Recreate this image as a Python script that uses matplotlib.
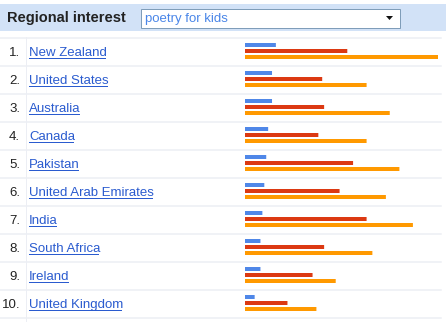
import matplotlib
matplotlib.use("Agg")
import matplotlib.pyplot as plt
from matplotlib.patches import Rectangle, Polygon
from matplotlib.lines import Line2D

countries = ["New Zealand", "United States", "Australia", "Canada", "Pakistan",
             "United Arab Emirates", "India", "South Africa", "Ireland", "United Kingdom"]
blue_vals = [16, 14, 14, 12, 11, 10, 9, 8, 8, 5]
red_vals = [53, 40, 41, 38, 56, 49, 63, 41, 35, 22]
orange_vals = [100, 63, 75, 63, 80, 73, 87, 66, 47, 37]
title = "Regional interest"
query = "poetry for kids"

W, H = 446, 322
fig = plt.figure(figsize=(W / 100, H / 100), dpi=100)
bg = fig.add_axes([0, 0, 1, 1])
bg.set_xlim(0, W)
bg.set_ylim(H, 0)
bg.axis("off")

FONT = "Liberation Sans"
PX = 0.72  # one pixel in points
# header band
bg.add_patch(Rectangle((0, 4), W, 27, facecolor="#d2e2f7", edgecolor="none"))
bg.text(7, 22, title, fontsize=10.5, fontweight="bold", family=FONT,
        color="#222222", va="baseline", ha="left")
bg.add_patch(Rectangle((140.5, 8.5), 259, 19, facecolor="white",
                       edgecolor="#7f9db9", lw=PX))
bg.text(145, 22, query, fontsize=9.5, family=FONT, color="#4a86e8",
        va="baseline", ha="left")
bg.add_patch(Polygon([[386, 16], [393, 16], [389.5, 20]], closed=True,
                     facecolor="#111111", edgecolor="none"))

# table lines
sep_color = "#eceef4"
bg.add_line(Line2D([25.5, 25.5], [37, 322], color=sep_color, lw=PX))
n = len(countries)
for i in range(n + 1):
    y = 37.5 + 28 * i
    bg.add_line(Line2D([0, 441], [y, y], color=sep_color, lw=PX * 1.5))

link_color = "#2a5bcf"
texts = []
for i, c in enumerate(countries):
    yb = 56 + 28 * i
    bg.text(20, yb, f"{i + 1}.", fontsize=9.5, family=FONT, color="#222222",
            ha="right", va="baseline")
    t = bg.text(29, yb, c, fontsize=9.5, family=FONT, color=link_color,
                ha="left", va="baseline")
    texts.append((t, yb))

fig.canvas.draw()
r = fig.canvas.get_renderer()
inv = bg.transData.inverted()
for t, yb in texts:
    bb = t.get_window_extent(r)
    x0, _ = inv.transform((bb.x0, bb.y0))
    x1, _ = inv.transform((bb.x1, bb.y0))
    bg.add_line(Line2D([x0, x1 - 2], [yb + 1.5, yb + 1.5], color=link_color, lw=PX))

# bars
ax = fig.add_axes([245 / W, 1 - 317 / H, (438 - 245) / W, 280 / H])
ax.set_xlim(0, 100)
ax.set_ylim(n - 0.5, -0.5)
ax.axis("off")
ax.patch.set_alpha(0)
pos = list(range(n))
h = 4 / 28
off = 6 / 28
for ys, vals, col in [([p - off for p in pos], blue_vals, "#4f87e8"),
                      (pos, red_vals, "#dc3912"),
                      ([p + off for p in pos], orange_vals, "#ff9900")]:
    bars = ax.barh(ys, vals, height=h, color=col, lw=0)
    for b in bars:
        b.set_snap(False)

fig.savefig("out.png", dpi=100)
